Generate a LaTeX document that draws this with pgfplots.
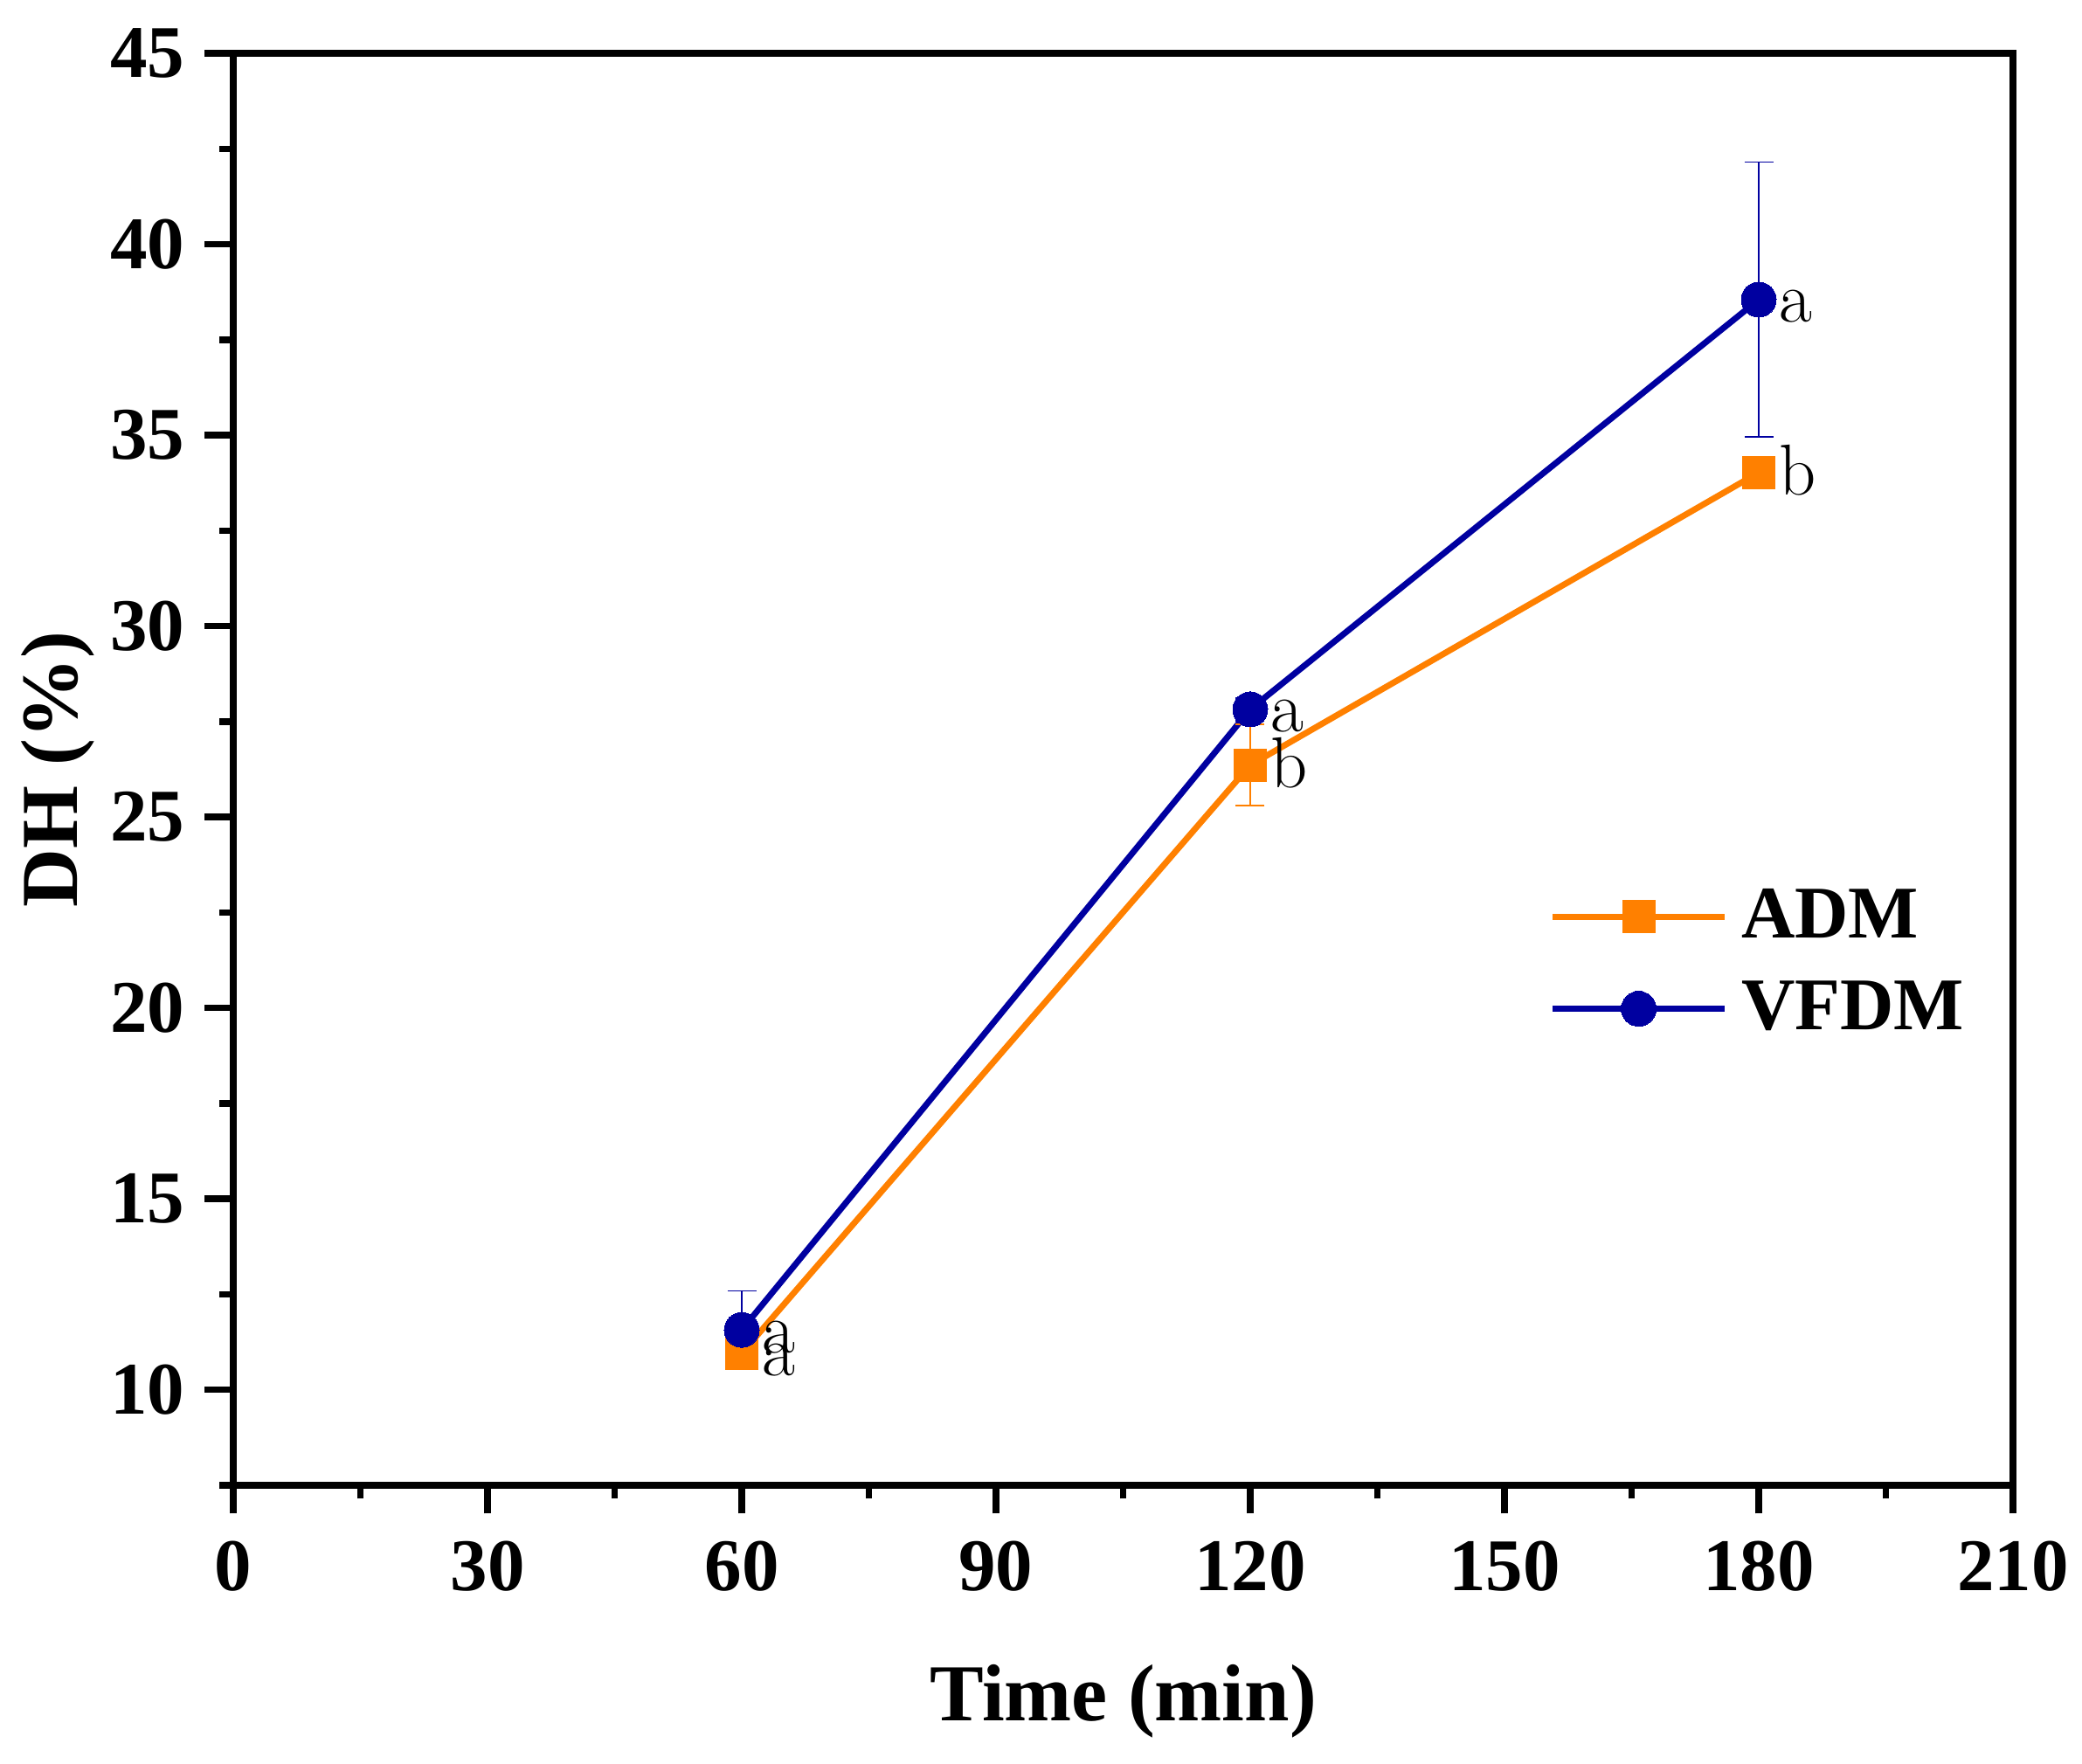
\documentclass[border=0pt]{standalone}
\usepackage[no-math]{fontspec}
\setmainfont{Liberation Serif}
\newfontfamily\lmfont{Latin Modern Roman}
\usepackage{pgfplots}
\usepackage{pgfplotstable}
\pgfplotsset{compat=1.18}
\definecolor{admorange}{RGB}{255,128,0}
\definecolor{vfdmblue}{RGB}{0,0,160}

\pgfplotstableread{
x y e lab
60 10.96 0.40 a
120 26.36 1.06 b
180 34.02 0.30 b
}\admdata
\pgfplotstableread{
x y e lab
60 11.57 1.02 a
120 27.82 0.30 a
180 38.55 3.60 a
}\vfdmdata

\begin{document}
\begin{tikzpicture}
\useasboundingbox (-53.4pt,-63.8pt) rectangle (423.2pt,340pt);
\begin{axis}[
  at={(0pt,0pt)}, anchor=south west,
  scale only axis,
  width=407.4pt, height=327.8pt,
  xmin=0, xmax=210, ymin=7.5, ymax=45,
  xtick={0,30,...,210}, ytick={10,15,...,45},
  minor xtick={15,45,...,195}, minor ytick={7.5,12.5,...,42.5},
  xtick pos=left, ytick pos=left,
  tick align=outside,
  major tick length=6.5pt, minor tick length=3.1pt,
  every tick/.style={black, line width=1.5pt},
  axis line style={line width=1.5pt},
  /pgf/number format/assume math mode=true,
  ticklabel style={font=\fontsize{17}{17}\selectfont\bfseries, inner sep=0pt},
  xticklabel style={anchor=north, yshift=-12.6pt+6.5pt},
  yticklabel style={anchor=east, xshift=-4.4pt},
  every axis x label/.style={at={(axis description cs:0.5,-0.1647)}, anchor=base},
  every axis y label/.style={at={(axis description cs:-0.0874,0.5)}, rotate=90, anchor=base},
  xlabel={\fontsize{18.5}{18.5}\selectfont\bfseries Time (min)},
  ylabel={\fontsize{18.5}{18.5}\selectfont\bfseries DH (\%)},
  legend cell align=left,
  legend style={draw=none, fill=none, inner sep=0pt, outer sep=0pt,
    at={(0.7396,0.4165)}, anchor=north west,
    font=\fontsize{17}{17}\selectfont\bfseries,
    nodes={inner sep=0pt}, row sep=8.4pt,
    /tikz/every odd column/.append style={column sep=3.1pt}},
  legend image code/.code={\draw[mark repeat=2,mark phase=2,#1] plot coordinates {(0pt,0pt) (19.7pt,0pt) (39.4pt,0pt)};},
  nodes near coords={\lmfont\pgfplotspointmeta},
  point meta=explicit symbolic,
  nodes near coords style={anchor=base west, inner sep=0pt, xshift=4.6pt, yshift=-5.2pt, text=black, font=\fontsize{16.5}{16.5}\selectfont},
]
\addplot[color=admorange, line width=1.4pt, mark=square*, mark size=3.7pt,
  mark options={solid, fill=admorange, draw=admorange, line width=0pt}]
  table[x=x, y=y, meta=lab] {\admdata};
\addlegendentry{ADM}
\addplot[color=vfdmblue, line width=1.4pt, mark=*, mark size=4pt,
  mark options={solid, fill=vfdmblue, draw=vfdmblue, line width=0pt},
  error bars/.cd, y dir=both, y explicit,
  error bar style={line width=0.35pt, vfdmblue},
  error mark options={rotate=90, mark size=3.3pt, line width=0.35pt, vfdmblue}]
  table[x=x, y=y, y error=e, meta=lab] {\vfdmdata};
\addlegendentry{VFDM}
\addplot[draw=none, mark=none, forget plot, nodes near coords={},
  error bars/.cd, y dir=both, y explicit,
  error bar style={line width=0.35pt, admorange},
  error mark options={rotate=90, mark size=3.3pt, line width=0.35pt, admorange}]
  table[x=x, y=y, y error=e] {\admdata};
\end{axis}
\end{tikzpicture}
\end{document}
